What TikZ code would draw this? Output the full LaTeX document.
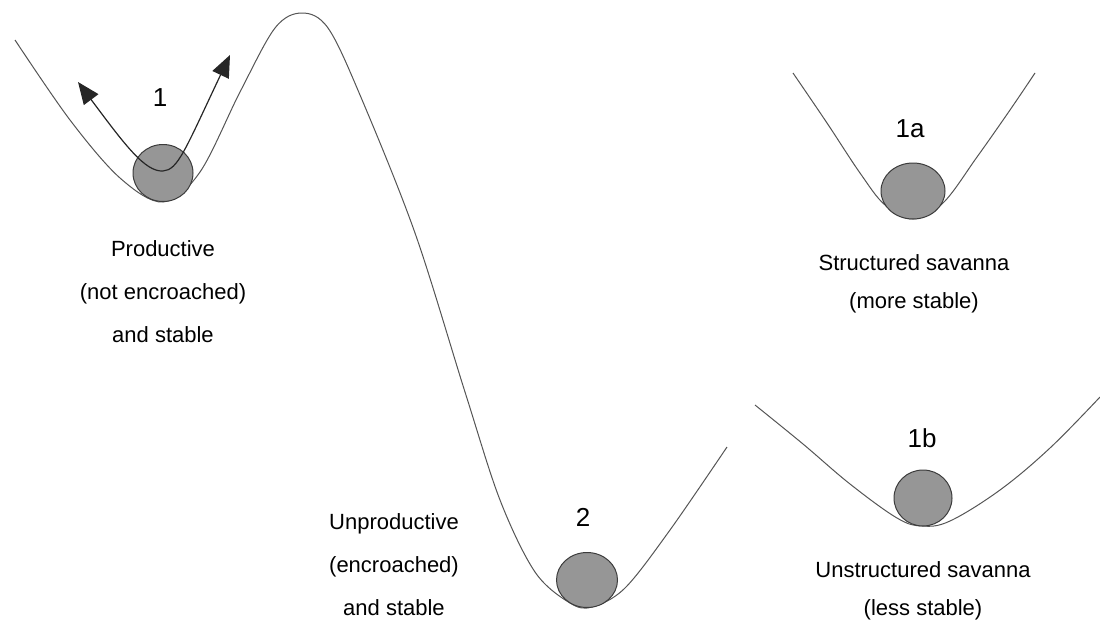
\documentclass[tikz,border=0pt]{standalone}
\usepackage{fontspec}
\setmainfont{Liberation Sans}
\usetikzlibrary{arrows.meta,shapes.geometric}
\definecolor{ballfill}{RGB}{150,150,150}
\definecolor{balledge}{RGB}{60,60,60}
\definecolor{curvecol}{RGB}{85,85,85}
\begin{document}
\begin{tikzpicture}[x=1pt,y=-1pt,
  curve/.style={draw=curvecol, line width=1pt},
  ball/.style={ellipse, draw=balledge, fill=ballfill, line width=1pt, inner sep=0pt},
  lbl/.style={font=\fontsize{22}{43}\selectfont, align=center},
  lblr/.style={font=\fontsize{22}{38}\selectfont, align=center},
  num/.style={font=\fontsize{26}{30}\selectfont},
  push/.style={draw=black!85, line width=1.2pt, {Triangle[length=22pt,width=18pt]}-{Triangle[length=22pt,width=18pt]}}]
\useasboundingbox (0,0) rectangle (1100,624);
% main landscape
\draw[curve] plot[smooth, tension=0.55] coordinates {(15,40) (70,120) (120,178) (163,202) (200,172) (240,92) (275,28) (302,13) (328,28) (360,95) (415,233) (465,392) (500,500) (535,572) (570,603) (592,607) (625,588) (670,530) (727,447)};
% right basins
\draw[curve] plot[smooth, tension=0.6] coordinates {(793,73) (827,123) (860,173) (885,205) (913,219) (943,203) (977,157) (1010,110) (1035,73)};
\draw[curve] plot[smooth, tension=0.6] coordinates {(755,405) (803,444) (850,484) (897,518) (922,526) (950,521) (1000,490) (1050,448) (1100,397)};
% balls
\node[ball, minimum width=60pt, minimum height=57pt] (b1) at (163,173) {};
\node[ball, minimum width=61pt, minimum height=55pt] (b2) at (587,580) {};
\node[ball, minimum width=64pt, minimum height=56pt] (b1a) at (913,191) {};
\node[ball, minimum width=58pt, minimum height=56pt] (b1b) at (923,498) {};
% perturbation arrows
\draw[push] (78,82) .. controls (125,145) and (145,172) .. (163,171) .. controls (178,170) and (185,150) .. (230,55);
% numbers
\node[num] (n1) at (160,98) {1};
\node[num] (n2) at (583,517) {2};
\node[num] (n1a) at (910,129) {1a};
\node[num] (n1b) at (922,438) {1b};
% descriptions
\node[lbl] (t1) at (163,292) {Productive\\(not encroached)\\and stable};
\node[lbl] (t2) at (394,565) {Unproductive\\(encroached)\\and stable};
\node[lblr] (t1a) at (914,284) {Structured savanna\\(more stable)};
\node[lblr] (t1b) at (923,591) {Unstructured savanna\\(less stable)};
\end{tikzpicture}
\end{document}
